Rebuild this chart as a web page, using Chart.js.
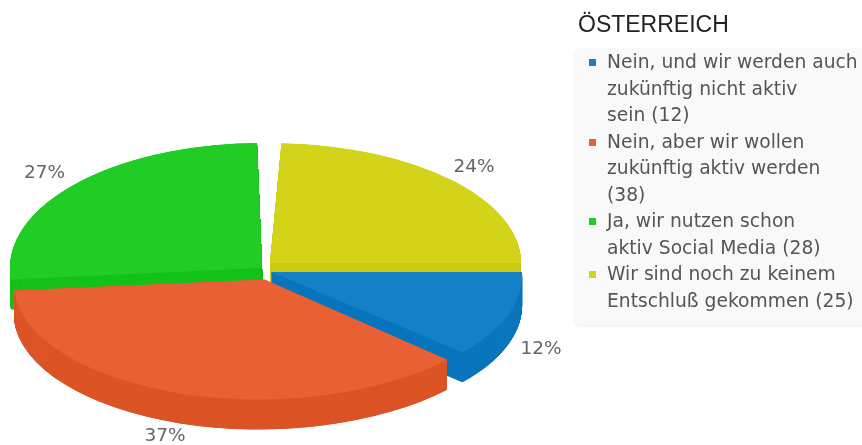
<!DOCTYPE html>
<html><head><meta charset="utf-8">
<script src="https://cdn.jsdelivr.net/npm/chart.js@4"></script>
<style>
html,body{margin:0;padding:0;background:#fff;width:862px;height:445px;overflow:hidden}
#wrap{position:absolute;left:0;top:0;width:862px;height:445px;overflow:hidden;filter:blur(0.45px)}
#chart{position:absolute;left:0;top:0}
#title{position:absolute;left:578px;top:11px;font:23px "Liberation Sans",Arial,sans-serif;color:#222;line-height:26px;white-space:nowrap}
#legend{position:absolute;left:574px;top:48px;width:300px;height:277px;background:#f9f9f9;border-radius:6px;box-shadow:0 1px 2px rgba(0,0,0,.08);font:18.7px "DejaVu Sans",sans-serif;color:#555;line-height:26.5px;padding-top:1px;box-sizing:border-box}
.item{position:relative;padding-left:33px;white-space:nowrap}
.mark{position:absolute;left:15px;top:10px;width:7px;height:7px}
</style></head><body>
<div id="wrap">
<canvas id="chart" width="862" height="445"></canvas>
<div id="title"></div>
<div id="legend"></div>
</div>
<script>
const chartTitle = "ÖSTERREICH";
const categories = ["Nein, und wir werden auch zukünftig nicht aktiv sein","Nein, aber wir wollen zukünftig aktiv werden","Ja, wir nutzen schon aktiv Social Media","Wir sind noch zu keinem Entschluß gekommen"];
const values = [12, 38, 28, 25];
const legendLines = [["Nein, und wir werden auch","zukünftig nicht aktiv","sein (12)"],["Nein, aber wir wollen","zukünftig aktiv werden","(38)"],["Ja, wir nutzen schon","aktiv Social Media (28)"],["Wir sind noch zu keinem","Entschluß gekommen (25)"]];
const topColors = ["#1380c8","#e86033","#21cd24","#d3d41a"];
const sideColors = ["#0a76bd","#dc5527","#15c21a","#c9c912"];
// per-slice placement of the squashed, exploded pie
const sliceCentreX = [271,264.5,261,270];
const sliceCentreY = [272,279.5,268,263];
const sliceRadiusY = [120,120,125,120];
const sliceShear = [0.06,-0.05,0,0];
const drawOrder = [3,2,0,1];
const labelX = [541,165,44.5,474];
const labelY = [349,436,173,167];
const RX = 251, DEPTH = 30, R = 100;

document.getElementById('title').textContent = chartTitle;
const lg = document.getElementById('legend');
legendLines.forEach((lines,i)=>{
  const d = document.createElement('div'); d.className='item';
  d.innerHTML = '<span class="mark" style="background:'+topColors[i]+'"></span>'+lines.join('<br>');
  lg.appendChild(d);
});

const pie3d = {
  id:'pie3d',
  beforeDatasetsDraw(chart){
    const ctx = chart.ctx, arcs = chart.getDatasetMeta(0).data;
    const place = (arc,i,dy)=>{
      ctx.translate(sliceCentreX[i], sliceCentreY[i]+dy);
      ctx.transform(RX/R,0,sliceShear[i]*sliceRadiusY[i]/R,sliceRadiusY[i]/R,0,0);
      ctx.translate(-arc.x,-arc.y);
    };
    drawOrder.forEach(i=>{
      const arc = arcs[i], o = arc.options;
      ctx.save();
      if(i===2){ // the green slice's far edge leans left in the perspective view
        ctx.beginPath();
        ctx.moveTo(0,0);ctx.lineTo(251.3,0);ctx.lineTo(269,445);ctx.lineTo(0,445);ctx.closePath();ctx.clip();
      }
      arc.options = Object.assign({},o,{backgroundColor:sideColors[i],borderWidth:0});
      for(let d=DEPTH;d>=0.25;d-=0.25){ ctx.save(); place(arc,i,d); arc.draw(ctx); ctx.restore(); }
      arc.options = Object.assign({},o,{backgroundColor:topColors[i],borderWidth:0});
      ctx.save(); place(arc,i,0); arc.draw(ctx); ctx.restore();
      arc.options = o;
      ctx.restore();
    });
    const sum = values.reduce((a,b)=>a+b,0);
    ctx.save();
    ctx.font = '18.5px "DejaVu Sans",sans-serif'; ctx.fillStyle='#666';
    ctx.textAlign='center'; ctx.textBaseline='middle';
    values.forEach((v,i)=>ctx.fillText(Math.round(v/sum*100)+'%',labelX[i],labelY[i]));
    ctx.restore();
    return false;
  }
};

new Chart(document.getElementById('chart'),{
  type:'pie',
  data:{labels:categories,datasets:[{data:values,backgroundColor:topColors,borderWidth:0}]},
  options:{responsive:false,animation:false,rotation:90,radius:R,
    plugins:{legend:{display:false},tooltip:{enabled:false},title:{display:false}}},
  plugins:[pie3d]
});
</script></body></html>
